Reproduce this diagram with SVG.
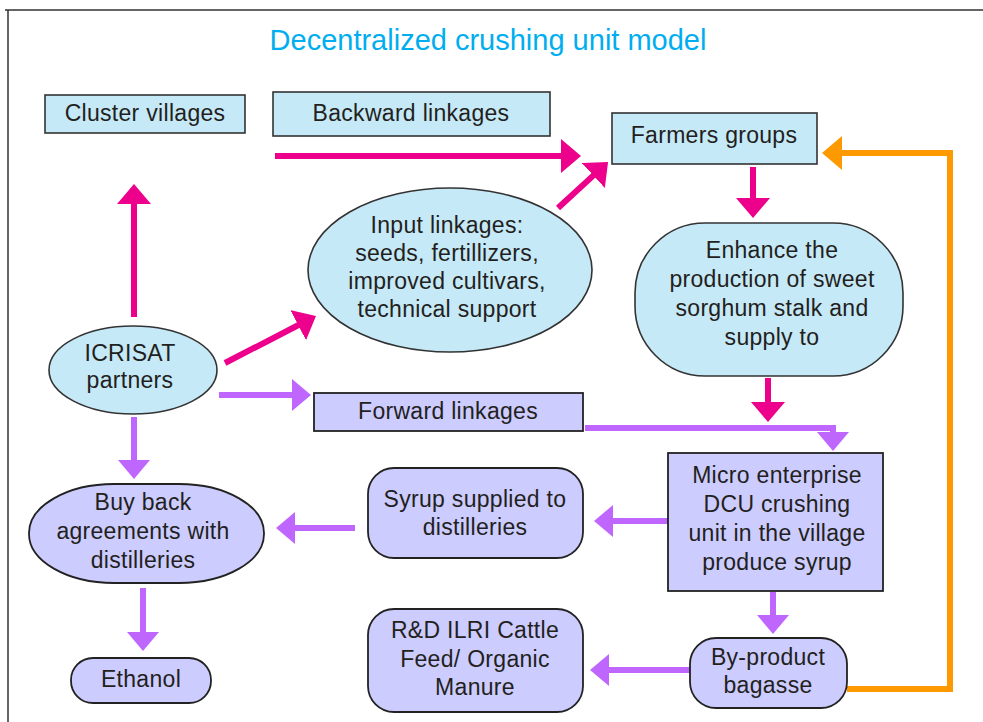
<svg xmlns="http://www.w3.org/2000/svg" width="983" height="722" viewBox="0 0 983 722">
<style>
.t{font-family:"Liberation Sans",Arial,sans-serif;font-size:23px;fill:#231F20;text-anchor:middle;letter-spacing:0.3px}
.blue{fill:#C6E9F8;stroke:#333;stroke-width:1.6}
.lav{fill:#CCCCFF;stroke:#222;stroke-width:1.8}
.mg{fill:none;stroke:#EC008C;stroke-width:6}
.pu{fill:none;stroke:#BF66FF;stroke-width:6}
.or{fill:none;stroke:#FF9900;stroke-width:6}
</style>
<defs>
<marker id="hm" viewBox="0 0 20 34" refX="8" refY="17" markerWidth="20" markerHeight="34" markerUnits="userSpaceOnUse" orient="auto"><path d="M0,0 L20,17 L0,34 z" fill="#EC008C"/></marker>
<marker id="hp" viewBox="0 0 20 34" refX="8" refY="17" markerWidth="20" markerHeight="34" markerUnits="userSpaceOnUse" orient="auto"><path d="M0,1 L19,17 L0,33 z" fill="#BF66FF"/></marker>
<marker id="ho" viewBox="0 0 20 34" refX="8" refY="17" markerWidth="20" markerHeight="34" markerUnits="userSpaceOnUse" orient="auto"><path d="M0,0 L20,17 L0,34 z" fill="#FF9900"/></marker>
</defs>
<rect width="983" height="722" fill="#fff"/>
<path d="M5,10 H983 M8,10 V722" fill="none" stroke="#333" stroke-width="1.5"/>
<text x="488" y="50" style="font-family:'Liberation Sans',Arial,sans-serif;font-size:29px;fill:#00AEEF;text-anchor:middle">Decentralized crushing unit model</text>

<g id="connectors">
<path class="mg" d="M134,317 V196" marker-end="url(#hm)"/>
<path class="mg" d="M275,156 H569" marker-end="url(#hm)"/>
<path class="mg" d="M558,208 L599.2,170.1" marker-end="url(#hm)"/>
<path class="mg" d="M753,167 V206" marker-end="url(#hm)"/>
<path class="mg" d="M768,378 V410" marker-end="url(#hm)"/>
<path class="mg" d="M225,363 L305.3,321.5" marker-end="url(#hm)"/>
<path class="pu" d="M219,395 H300" marker-end="url(#hp)"/>
<path class="pu" d="M585,428 H833 V440" marker-end="url(#hp)"/>
<path class="pu" d="M134,417 V468" marker-end="url(#hp)"/>
<path class="pu" d="M668,521 H605" marker-end="url(#hp)"/>
<path class="pu" d="M355,528 H287" marker-end="url(#hp)"/>
<path class="pu" d="M143,588 V640" marker-end="url(#hp)"/>
<path class="pu" d="M773,592 V623" marker-end="url(#hp)"/>
<path class="pu" d="M690,670 H601" marker-end="url(#hp)"/>
<path class="or" d="M847,689 H950 V153 H834" marker-end="url(#ho)"/>
</g>

<g id="cluster-villages">
<rect class="blue" x="45" y="95" width="200" height="38"/>
<text class="t" x="145" y="121">Cluster villages</text>
</g>
<g id="backward-linkages">
<rect class="blue" x="273" y="92" width="277" height="44"/>
<text class="t" x="411" y="121">Backward linkages</text>
</g>
<g id="farmers-groups">
<rect class="blue" x="612" y="113" width="205" height="51"/>
<text class="t" x="714" y="143">Farmers groups</text>
</g>
<g id="input-linkages">
<ellipse class="blue" cx="450" cy="270" rx="142" ry="82"/>
<text class="t" x="447" y="233">Input linkages:</text>
<text class="t" x="447" y="261">seeds, fertillizers,</text>
<text class="t" x="447" y="289">improved cultivars,</text>
<text class="t" x="447" y="317">technical support</text>
</g>
<g id="enhance">
<rect class="blue" x="635" y="223" width="268" height="153" rx="70" ry="70"/>
<text class="t" x="772" y="258">Enhance the</text>
<text class="t" x="772" y="287">production of sweet</text>
<text class="t" x="772" y="316">sorghum stalk and</text>
<text class="t" x="772" y="345">supply to</text>
</g>
<g id="icrisat-partners">
<ellipse class="blue" cx="133" cy="370" rx="84" ry="44"/>
<text class="t" x="130" y="361">ICRISAT</text>
<text class="t" x="130" y="388">partners</text>
</g>
<g id="forward-linkages">
<rect class="lav" x="314" y="393" width="269" height="38"/>
<text class="t" x="448" y="419">Forward linkages</text>
</g>
<g id="micro-enterprise">
<rect class="lav" x="668" y="453" width="215" height="138"/>
<text class="t" x="777" y="483">Micro enterprise</text>
<text class="t" x="777" y="512">DCU crushing</text>
<text class="t" x="777" y="541">unit in the village</text>
<text class="t" x="777" y="570">produce syrup</text>
</g>
<g id="syrup">
<rect class="lav" x="368" y="468" width="215" height="90" rx="26" ry="26"/>
<text class="t" x="475" y="507">Syrup supplied to</text>
<text class="t" x="475" y="535">distilleries</text>
</g>
<g id="buy-back">
<rect class="lav" x="29" y="484" width="235" height="99" rx="85" ry="49"/>
<text class="t" x="143" y="510">Buy back</text>
<text class="t" x="143" y="539">agreements with</text>
<text class="t" x="143" y="568">distilleries</text>
</g>
<g id="ethanol">
<rect class="lav" x="71" y="658" width="140" height="45" rx="22" ry="22"/>
<text class="t" x="141" y="687">Ethanol</text>
</g>
<g id="rd-ilri">
<rect class="lav" x="368" y="609" width="215" height="103" rx="26" ry="26"/>
<text class="t" x="475" y="638">R&amp;D ILRI Cattle</text>
<text class="t" x="475" y="667">Feed/ Organic</text>
<text class="t" x="475" y="695">Manure</text>
</g>
<g id="by-product">
<rect class="lav" x="690" y="638" width="157" height="70" rx="26" ry="26"/>
<text class="t" x="768" y="665">By-product</text>
<text class="t" x="768" y="693">bagasse</text>
</g>
</svg>
